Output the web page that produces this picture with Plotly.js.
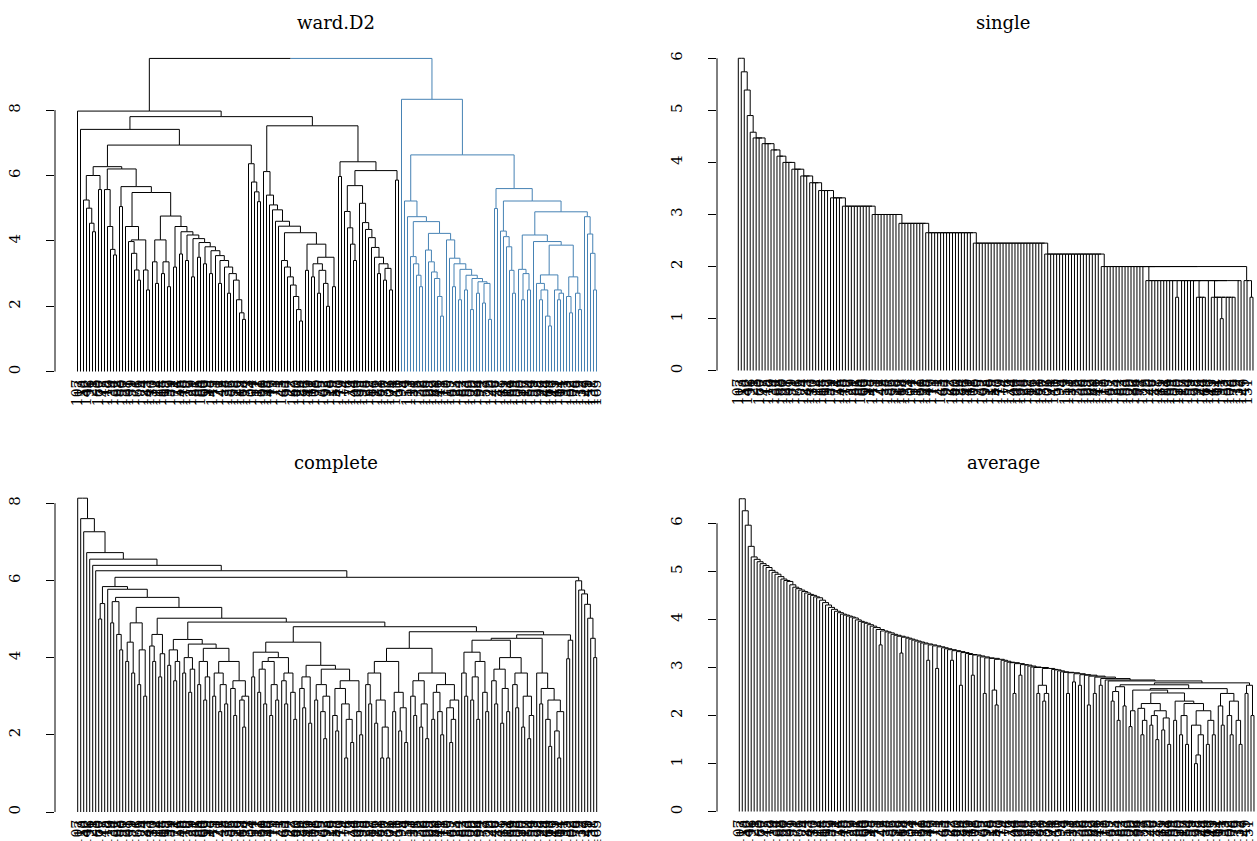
<!DOCTYPE html>
<html><head><meta charset="utf-8">
<script src="https://cdn.plot.ly/plotly-3.0.1.min.js"></script>
<style>html,body{margin:0;padding:0;background:#fff}#chart{width:1257px;height:841px}</style>
</head><body><div id="chart"></div>
<script>
// Merge height between each pair of adjacent leaves (left to right), one array per linkage method
const wardGaps = [
 7.97,7.41,5.25,5.0,4.54,4.28,6.0,5.57,6.27,5.57,
 4.44,3.74,3.57,6.2,5.05,5.66,4.44,3.98,3.62,3.11,
 2.8,4.03,3.11,2.5,5.48,3.36,2.7,4.03,3.0,3.36,
 2.6,4.76,3.2,4.44,3.6,4.28,3.4,4.18,2.9,4.07,
 3.5,3.95,3.3,3.82,3.0,3.7,3.55,2.7,3.4,3.2,
 2.4,3.0,2.8,2.2,1.8,1.6,6.93,6.36,5.8,5.5,
 5.2,7.80,6.12,5.4,5.1,4.95,4.6,4.45,3.4,3.2,
 2.9,2.65,2.3,1.9,1.55,4.25,3.1,3.9,2.9,3.3,
 2.4,3.1,2.7,2.0,3.5,2.6,7.52,5.97,6.42,4.9,
 4.4,3.9,3.4,5.69,5.15,4.56,4.35,4.1,3.8,3.5,
 3.0,3.3,2.8,3.16,2.5,6.15,5.86,9.58,8.33,5.22,
 4.74,3.52,3.3,2.95,2.6,4.59,3.72,3.36,3.05,2.85,
 2.3,1.7,4.23,4.03,3.47,2.6,3.3,2.2,3.13,2.5,
 2.95,1.9,2.85,2.4,2.75,2.1,2.7,1.6,6.63,4.99,
 5.6,4.3,4.13,3.82,3.1,2.4,5.22,3.13,2.2,3.0,
 2.5,4.18,3.98,2.7,2.2,2.5,1.7,1.4,2.96,2.5,
 2.2,2.4,3.87,2.3,1.8,2.9,2.4,1.9,4.89,4.74,
 4.21,3.62,2.5];
const wardFirstBlueLeaf = 109;

const singleGaps = [
 6.0,5.74,5.39,4.9,4.58,4.47,4.47,4.47,4.36,4.36,
 4.36,4.24,4.24,4.12,4.12,4.0,4.0,4.0,3.87,3.87,
 3.87,3.74,3.74,3.74,3.61,3.61,3.61,3.46,3.46,3.46,
 3.46,3.32,3.32,3.32,3.32,3.16,3.16,3.16,3.16,3.16,
 3.16,3.16,3.16,3.16,3.16,3.0,3.0,3.0,3.0,3.0,
 3.0,3.0,3.0,3.0,2.83,2.83,2.83,2.83,2.83,2.83,
 2.83,2.83,2.83,2.65,2.65,2.65,2.65,2.65,2.65,2.65,
 2.65,2.65,2.65,2.65,2.65,2.65,2.65,2.65,2.65,2.45,
 2.45,2.45,2.45,2.45,2.45,2.45,2.45,2.45,2.45,2.45,
 2.45,2.45,2.45,2.45,2.45,2.45,2.45,2.45,2.45,2.45,
 2.45,2.45,2.45,2.24,2.24,2.24,2.24,2.24,2.24,2.24,
 2.24,2.24,2.24,2.24,2.24,2.24,2.24,2.24,2.24,2.24,
 2.24,2.24,2.0,2.0,2.0,2.0,2.0,2.0,2.0,2.0,
 2.0,2.0,2.0,2.0,2.0,2.0,2.0,1.73,1.73,1.73,
 1.73,1.73,1.73,1.73,1.73,1.73,1.73,1.41,1.73,1.73,
 1.73,1.73,1.73,1.73,1.41,1.41,1.41,1.73,1.73,1.41,
 1.41,1.41,1.0,1.41,1.41,1.41,1.41,1.73,1.73,2.0,
 1.73,1.73,1.41];

const completeGaps = [
 8.13,7.6,7.26,6.72,6.55,6.39,6.25,5.0,5.4,5.84,
 5.77,4.9,5.45,4.6,4.2,5.56,3.9,4.4,3.6,4.9,
 3.3,4.2,3.0,5.3,4.3,3.9,4.6,3.5,4.1,5.02,
 3.8,4.2,3.4,3.9,4.47,3.6,4.0,3.1,3.7,4.35,
 3.3,3.9,2.9,3.5,4.24,3.0,3.6,2.6,3.3,2.8,
 3.9,3.2,2.5,3.4,2.9,2.2,3.0,4.92,3.5,4.14,
 3.1,3.7,2.8,3.9,2.5,3.3,2.9,4.0,3.4,2.8,
 3.6,3.1,2.4,4.4,3.2,2.7,3.5,2.3,3.8,2.9,
 3.3,2.6,1.9,3.0,3.7,2.5,2.1,3.2,2.8,1.4,
 2.4,1.8,3.4,2.6,2.0,4.8,3.3,2.8,3.6,2.3,
 2.9,1.4,2.2,1.4,3.9,2.6,3.1,2.1,2.7,1.8,
 4.24,3.0,2.5,3.4,2.2,2.8,1.9,3.6,2.4,3.1,
 2.6,2.0,3.3,2.7,1.8,2.4,2.9,4.67,3.6,3.0,
 4.14,2.9,3.5,2.4,3.9,3.1,2.6,4.45,3.4,2.8,
 3.7,2.3,3.2,2.6,4.0,3.3,2.7,3.6,2.2,3.0,
 1.9,2.5,4.5,3.6,2.8,3.2,2.4,1.7,2.9,2.1,
 1.4,2.6,4.59,3.97,4.45,6.08,5.99,5.75,5.65,5.38,
 5.02,4.5,4.0];

const averageGaps = [
 6.51,6.26,5.96,5.52,5.30,5.25,5.20,5.16,5.12,5.08,
 5.02,4.98,4.94,4.89,4.84,4.81,4.79,4.72,4.67,4.64,
 4.61,4.58,4.55,4.52,4.50,4.47,4.45,4.40,4.35,4.30,
 4.25,4.21,4.17,4.14,4.11,4.09,4.07,4.05,4.03,3.99,
 3.96,3.94,3.92,3.89,3.86,3.83,3.79,3.47,3.76,3.74,
 3.72,3.69,3.67,3.65,3.30,3.63,3.61,3.59,3.57,3.55,
 3.53,3.51,3.49,3.15,3.47,3.45,2.98,3.43,3.41,3.39,
 3.37,3.15,3.35,3.33,2.63,3.31,3.29,3.27,2.84,3.26,
 3.24,3.22,2.46,3.20,3.19,2.53,2.22,3.17,3.15,3.13,
 3.11,3.10,2.46,3.08,2.84,3.06,3.05,3.03,3.01,3.00,
 2.46,2.63,2.30,2.46,2.98,2.96,2.95,2.93,2.91,2.90,
 2.46,2.89,2.70,2.87,2.63,2.85,2.84,2.22,2.82,2.46,
 2.80,2.63,2.77,2.74,2.72,2.3,2.5,1.9,2.6,2.2,
 2.64,1.77,2.1,2.53,2.15,1.6,1.9,2.25,1.8,2.0,
 1.5,2.1,1.7,1.95,1.4,2.47,1.9,2.3,1.6,2.0,
 1.4,2.25,1.8,1.0,1.18,1.6,2.1,1.4,1.9,1.6,
 2.56,2.2,1.8,2.46,2.0,1.6,2.3,1.9,1.4,2.68,
 2.46,2.63,2.0];

const leafLabels = [
 107,13,58,142,96,21,3,160,77,45,118,9,134,62,88,150,27,101,39,171,
 66,5,124,83,147,30,112,54,168,15,92,139,71,24,156,48,110,2,129,81,
 36,164,60,99,18,145,73,121,42,8,137,86,153,26,115,68,174,33,104,51,
 12,131,90,158,47,119,75,1,143,63,97,22,167,40,126,84,55,149,11,108,
 70,35,162,93,128,19,57,140,79,114,6,173,44,100,65,135,28,152,87,16,
 122,61,170,37,106,74,141,50,95,4,159,113,31,78,132,56,166,23,102,89,
 146,41,117,10,155,67,125,34,82,163,53,109,20,136,94,72,157,29,120,46,
 7,148,85,111,64,169,38,103,130,17,80,154,59,123,98,25,144,69,116,43,
 161,14,91,133,52,105,76,172,32,127,49,151,138,165];

const panelTitles = ["ward.D2","single","complete","average"];
const wardTicks = [0,2,4,6,8];
const singleTicks = [0,1,2,3,4,5,6];
const completeTicks = [0,2,4,6,8];
const averageTicks = [0,1,2,3,4,5,6];

const W = 1257, H = 841;
const BLACK = '#000000', BLUE = '#4682B4';
const SERIF = 'DejaVu Serif, serif';

function dendro(gaps, isBlue) {
  const segs = {black:{x:[],y:[]}, blue:{x:[],y:[]}};
  function rec(lo, hi) {
    if (lo === hi) return {x: lo + 1, h: 0, blue: isBlue(lo + 1)};
    let k = lo, m = -Infinity;
    for (let j = lo; j < hi; j++) if (gaps[j] > m) { m = gaps[j]; k = j; }
    const L = rec(lo, k), R = rec(k + 1, hi);
    const x = (L.x + R.x) / 2;
    [L, R].forEach(c => {
      const s = c.blue ? segs.blue : segs.black;
      s.x.push(c.x, c.x, x, null); s.y.push(c.h, m, m, null);
    });
    return {x: x, h: m, blue: L.blue && R.blue};
  }
  rec(0, gaps.length);
  return segs;
}

// panel geometry in pixels
const panels = [
  {gaps: wardGaps, ticks: wardTicks, blue: i => i >= wardFirstBlueLeaf,
   axisPx: 55, leaf1Px: 77.5, sp: 3.0, rightPx: 618, zeroPx: 371.7, unit: 32.7, topPx: 46, titleX: 336, titleY: 22},
  {gaps: singleGaps, ticks: singleTicks, blue: i => false,
   axisPx: 717, leaf1Px: 738.3, sp: 2.975, rightPx: 1257, zeroPx: 370.7, unit: 52.07, topPx: 46, titleX: 1003, titleY: 22},
  {gaps: completeGaps, ticks: completeTicks, blue: i => false,
   axisPx: 55, leaf1Px: 77.7, sp: 3.0, rightPx: 618, zeroPx: 812, unit: 38.6, topPx: 487, titleX: 336, titleY: 463},
  {gaps: averageGaps, ticks: averageTicks, blue: i => false,
   axisPx: 717, leaf1Px: 739.3, sp: 2.975, rightPx: 1257, zeroPx: 811.7, unit: 48.07, topPx: 487, titleX: 1003, titleY: 463}
];

const traces = [];
const layout = {
  width: W, height: H, margin: {l:0, r:0, t:0, b:0},
  paper_bgcolor: '#fff', plot_bgcolor: '#fff', showlegend: false,
  shapes: [], annotations: []
};

panels.forEach((p, idx) => {
  const n = p.gaps.length + 1;
  const sfx = idx === 0 ? '' : String(idx + 1);
  const xa = 'x' + sfx, ya = 'y' + sfx;
  const segs = dendro(p.gaps, p.blue);
  [['black', BLACK], ['blue', BLUE]].forEach(([k, col]) => {
    if (segs[k].x.length) traces.push({
      type: 'scatter', mode: 'lines', x: segs[k].x, y: segs[k].y,
      xaxis: xa, yaxis: ya, line: {color: col, width: 1}, hoverinfo: 'skip',
      connectgaps: false
    });
  });
  const leaves = [], labs = [];
  for (let i = 1; i <= n; i++) { leaves.push(i); labs.push(String(leafLabels[i - 1])); }
  const x0 = 1 - (p.leaf1Px - p.axisPx) / p.sp;
  const x1 = 1 + (p.rightPx - p.leaf1Px) / p.sp;
  layout['xaxis' + sfx] = {
    domain: [p.axisPx / W, p.rightPx / W], range: [x0, x1], anchor: ya,
    showgrid: false, zeroline: false, showline: false, ticks: '',
    tickmode: 'array', tickvals: leaves, ticktext: labs, tickangle: -90,
    tickfont: {family: SERIF, size: 14, color: '#000'}, automargin: false,
    ticklabelstandoff: 4, fixedrange: true
  };
  const yTop = (p.zeroPx - p.topPx) / p.unit;
  layout['yaxis' + sfx] = {
    domain: [(H - p.zeroPx) / H, (H - p.topPx) / H], range: [0, yTop], anchor: xa,
    showgrid: false, zeroline: false, showline: false,
    ticks: 'outside', ticklen: 8, tickwidth: 1, tickcolor: '#000',
    tickmode: 'array', tickvals: p.ticks, ticktext: p.ticks.map(String),
    tickangle: -90, tickfont: {family: SERIF, size: 15, color: '#000'},
    ticklabelstandoff: 20, automargin: false, fixedrange: true
  };
  layout.shapes.push({
    type: 'line', xref: xa + ' domain', yref: ya, x0: 0, x1: 0,
    y0: p.ticks[0], y1: p.ticks[p.ticks.length - 1], line: {color: '#000', width: 1}
  });
  layout.annotations.push({
    text: panelTitles[idx], xref: 'paper', yref: 'paper',
    x: p.titleX / W, y: (H - p.titleY) / H, xanchor: 'center', yanchor: 'middle',
    showarrow: false, font: {family: SERIF, size: 18, color: '#000'}
  });
});

Plotly.newPlot('chart', traces, layout, {staticPlot: true, displayModeBar: false});
</script>
</body></html>
